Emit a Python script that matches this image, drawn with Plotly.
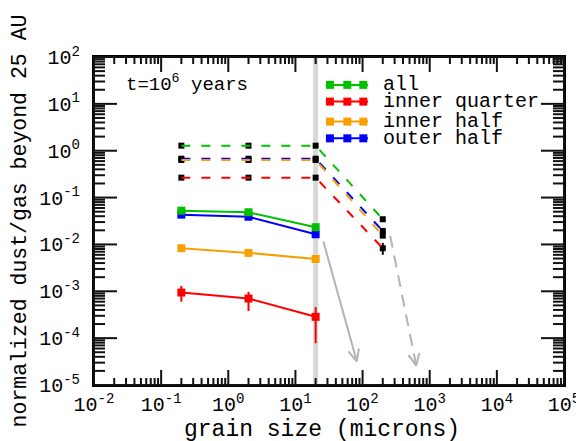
import math
import plotly.graph_objects as go

# ---------------- data ----------------
grain = [0.2, 2, 20]
all_vals = [0.0526, 0.0486, 0.0233]
inner_quarter = [0.00094, 0.0007, 0.000285]
iq_err_plus = [0.00036, 0.00027, 0.000175]
iq_err_minus = [0.00034, 0.00032, 0.000207]
inner_half = [0.0083, 0.0066, 0.0049]
outer_half = [0.0432, 0.039, 0.0165]

grain_ext = [0.2, 2, 20, 200]
all_ext = [1.28, 1.28, 1.28, 0.0345]
inner_quarter_ext = [0.266, 0.266, 0.266, 0.0083]
inner_half_ext = [0.633, 0.633, 0.633, 0.0154]
outer_half_ext = [0.675, 0.675, 0.675, 0.0194]
ext_err_plus = [0, 0, 0, 0.0025]
ext_err_minus = [0, 0, 0, 0.0023]

cut_size = 20  # vertical reference line (microns)

arrow_solid = {"x": [26.1, 82.0], "y": [0.0115, 3.2e-5]}
arrow_dashed = {"x": [258.0, 630.0], "y": [0.0152, 2.6e-5]}

x_tick_exp = [-2, -1, 0, 1, 2, 3, 4, 5]
y_tick_exp = [-5, -4, -3, -2, -1, 0, 1, 2]

series_names = ["all", "inner quarter", "inner half", "outer half"]
series_colors = ["#00c000", "#ff0000", "#f5a000", "#0000ff"]

FONT = "Liberation Mono"
GRAY = "#b4b4b4"
INK = "#111111"

# ---------------- layout geometry ----------------
W, H = 576, 433
ML, MR, MT, MB = 86, 20, 49, 56
PW, PH = W - ML - MR, H - MT - MB
PX_X = PW / 7.0
PX_Y = PH / 7.0
XR = (x_tick_exp[0], x_tick_exp[-1])
YR = (y_tick_exp[0], y_tick_exp[-1])

fig = go.Figure()

# vertical gray line
fig.add_trace(go.Scatter(x=[cut_size, cut_size], y=[10.0 ** YR[0], 10.0 ** YR[1]],
                         mode="lines", line=dict(color="#d8d8d8", width=5),
                         hoverinfo="skip"))


def tick_positions(lo, hi):
    major = [float(e) for e in range(lo, hi + 1)]
    minor = [e + math.log10(m) for e in range(lo, hi) for m in range(2, 10)]
    return major, minor


xmaj, xmin_ = tick_positions(*XR)
ymaj, ymin_ = tick_positions(*YR)

# tick marks as individual short line traces (drawn through the log axes)
for vals, L in ((xmaj, 15), (xmin_, 7)):
    d = L / PX_Y
    for v in vals:
        fig.add_trace(go.Scatter(x=[10 ** v, 10 ** v], y=[10 ** YR[0], 10 ** (YR[0] + d)],
                                 mode="lines", line=dict(color=INK, width=2),
                                 hoverinfo="skip"))
        fig.add_trace(go.Scatter(x=[10 ** v, 10 ** v], y=[10 ** YR[1], 10 ** (YR[1] - d)],
                                 mode="lines", line=dict(color=INK, width=2),
                                 hoverinfo="skip"))
for vals, L in ((ymaj, 23), (ymin_, 11)):
    d = L / PX_X
    for v in vals:
        fig.add_trace(go.Scatter(x=[10 ** XR[0], 10 ** (XR[0] + d)], y=[10 ** v, 10 ** v],
                                 mode="lines", line=dict(color=INK, width=2),
                                 hoverinfo="skip"))
        fig.add_trace(go.Scatter(x=[10 ** XR[1], 10 ** (XR[1] - d)], y=[10 ** v, 10 ** v],
                                 mode="lines", line=dict(color=INK, width=2),
                                 hoverinfo="skip"))

# black markers of extended (dashed) series
for ys in [all_ext, inner_half_ext, outer_half_ext]:
    fig.add_trace(go.Scatter(x=grain_ext, y=ys, mode="markers",
                             marker=dict(symbol="square", size=6, color="black")))
fig.add_trace(go.Scatter(x=grain_ext, y=inner_quarter_ext, mode="markers",
                         marker=dict(symbol="square", size=6, color="black"),
                         error_y=dict(type="data", symmetric=False, array=ext_err_plus,
                                      arrayminus=ext_err_minus, color="black",
                                      thickness=2, width=0)))

# dashed colored lines
ext_series = [all_ext, inner_quarter_ext, outer_half_ext, inner_half_ext]
ext_colors = [series_colors[0], series_colors[1], series_colors[3], series_colors[2]]
for ys, c in zip(ext_series, ext_colors):
    fig.add_trace(go.Scatter(x=grain_ext, y=ys, mode="lines",
                             line=dict(color=c, width=2, dash="9px,11px")))

# solid series
fig.add_trace(go.Scatter(x=grain, y=inner_half, mode="lines+markers",
                         line=dict(color=series_colors[2], width=2),
                         marker=dict(symbol="square", size=8, color=series_colors[2])))
fig.add_trace(go.Scatter(x=grain, y=outer_half, mode="lines+markers",
                         line=dict(color=series_colors[3], width=2),
                         marker=dict(symbol="square", size=8, color=series_colors[3])))
fig.add_trace(go.Scatter(x=grain, y=all_vals, mode="lines+markers",
                         line=dict(color=series_colors[0], width=2),
                         marker=dict(symbol="square", size=8, color=series_colors[0])))
fig.add_trace(go.Scatter(x=grain, y=inner_quarter, mode="lines+markers",
                         line=dict(color=series_colors[1], width=2),
                         marker=dict(symbol="square", size=8, color=series_colors[1]),
                         error_y=dict(type="data", symmetric=False, array=iq_err_plus,
                                      arrayminus=iq_err_minus, color=series_colors[1],
                                      thickness=2, width=0)))


# arrows
def arrow_head(xs, ys, length=13, ang=25):
    lx0, lx1 = math.log10(xs[0]), math.log10(xs[1])
    ly0, ly1 = math.log10(ys[0]), math.log10(ys[1])
    dx = (lx1 - lx0) * PX_X
    dy = (ly1 - ly0) * PX_Y
    n = math.hypot(dx, dy)
    bx, by = -dx / n, -dy / n
    out_x, out_y = [], []
    for s in (1, -1):
        a = math.radians(ang) * s
        wx = bx * math.cos(a) - by * math.sin(a)
        wy = bx * math.sin(a) + by * math.cos(a)
        out_x.append(10 ** (lx1 + wx * length / PX_X))
        out_y.append(10 ** (ly1 + wy * length / PX_Y))
    return [out_x[0], xs[1], out_x[1]], [out_y[0], ys[1], out_y[1]]


fig.add_trace(go.Scatter(x=arrow_solid["x"], y=arrow_solid["y"], mode="lines",
                         line=dict(color=GRAY, width=2)))
hx, hy = arrow_head(arrow_solid["x"], arrow_solid["y"])
fig.add_trace(go.Scatter(x=hx, y=hy, mode="lines", line=dict(color=GRAY, width=2)))
fig.add_trace(go.Scatter(x=arrow_dashed["x"], y=arrow_dashed["y"], mode="lines",
                         line=dict(color=GRAY, width=2, dash="12px,8px")))
hx, hy = arrow_head(arrow_dashed["x"], arrow_dashed["y"])
fig.add_trace(go.Scatter(x=hx, y=hy, mode="lines", line=dict(color=GRAY, width=2)))

# ---------------- frame + custom legend (shapes) ----------------
shapes = [dict(type="rect", xref="paper", yref="paper", x0=0, x1=1, y0=0, y1=1,
               layer="above", line=dict(color=INK, width=2))]
leg_rows = [0.915, 0.864, 0.803, 0.752]
leg_x0, leg_x1 = 0.496, 0.583
leg_marks = [0.502, 0.539, 0.573]
mw, mh = 4.0 / PW, 4.0 / PH
for name, c, yy in zip(series_names, series_colors, leg_rows):
    shapes.append(dict(type="line", xref="paper", yref="paper", x0=leg_x0, x1=leg_x1,
                       y0=yy, y1=yy, line=dict(color=c, width=2)))
    for mx in leg_marks:
        shapes.append(dict(type="rect", xref="paper", yref="paper",
                           x0=mx - mw, x1=mx + mw, y0=yy - mh, y1=yy + mh,
                           line=dict(width=0), fillcolor=c))
    fig.add_annotation(x=0.611, y=yy, xref="paper", yref="paper", text=name,
                       showarrow=False, xanchor="left", yanchor="middle",
                       font=dict(family=FONT, size=20, color="black"))

fig.add_annotation(x=0.064, y=0.918, xref="paper", yref="paper",
                   text="t=10<sup>6</sup> years", showarrow=False,
                   xanchor="left", yanchor="middle",
                   font=dict(family=FONT, size=19, color="black"))

fig.add_annotation(x=0.485, y=-0.137, xref="paper", yref="paper",
                   text="grain size (microns)", showarrow=False,
                   xanchor="center", yanchor="middle",
                   font=dict(family=FONT, size=23, color="black"))


def sup(e):
    return "10<sup>%d</sup>" % e


fig.update_layout(
    template="none",
    width=W, height=H, showlegend=False, shapes=shapes,
    margin=dict(l=ML, r=MR, t=MT, b=MB, autoexpand=False),
    paper_bgcolor="white", plot_bgcolor="white",
    font=dict(family=FONT, color="black"),
    xaxis=dict(type="log", range=list(XR), showgrid=False, zeroline=False,
               automargin=False, showline=True, linecolor="black", linewidth=2,
               mirror=True, ticks="", layer="above traces",
               ticklabeloverflow="allow",
               tickmode="array", tickvals=[10.0 ** e for e in x_tick_exp],
               ticktext=[sup(e) for e in x_tick_exp],
               tickfont=dict(family=FONT, size=20, color="black")),
    yaxis=dict(type="log", range=list(YR), showgrid=False, zeroline=False,
               automargin=False, showline=True, linecolor="black", linewidth=2,
               mirror=True, ticks="", layer="above traces",
               ticklabeloverflow="allow",
               tickmode="array", tickvals=[10.0 ** e for e in y_tick_exp],
               ticktext=[sup(e) for e in y_tick_exp],
               ticklabelstandoff=8,
               tickfont=dict(family=FONT, size=20, color="black"),
               title=dict(text="normalized dust/gas beyond 25 AU", standoff=8,
                          font=dict(family=FONT, size=21.5, color="black"))),
)

fig.write_html("out.html")
